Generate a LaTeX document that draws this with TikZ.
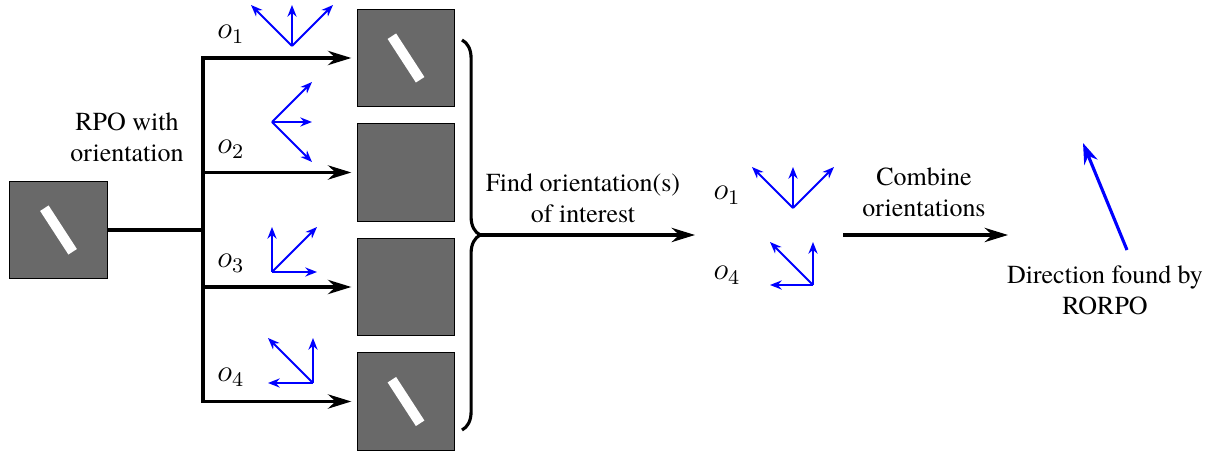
\documentclass[tikz,border=0pt]{standalone}
\usepackage[no-math]{fontspec}
\setmainfont{texgyretermes}[Extension=.otf,UprightFont=*-regular,BoldFont=*-bold,ItalicFont=*-italic,BoldItalicFont=*-bolditalic]
\usetikzlibrary{arrows.meta,decorations.pathreplacing}
\definecolor{boxgray}{RGB}{105,105,105}
\tikzset{
  imgbox/.style={draw,thin,fill=boxgray,minimum size=37.7pt,inner sep=0pt},
  bar/.style={fill=white,minimum width=20pt,minimum height=3.9pt,inner sep=0pt,rotate=-57},
  flow/.style={very thick,-{Stealth[length=9pt,width=5.5pt]}},
  ori/.style={thick,blue,-{Stealth[length=4.5pt,width=3.5pt]}},
  lbl/.style={align=center,inner sep=0pt}
}
\begin{document}
\begin{tikzpicture}[x=0.385pt,y=-0.385pt]
\useasboundingbox (0,0) rectangle (1218,454);
% input image
\node[imgbox] (in) at (58.5,230) {};
\node[bar] (inbar) at (in.center) {};
\node[lbl] (rpo) at (127,137) {RPO with\\orientation};
\coordinate (split) at (203,230);
\draw[very thick] (in.east) -- (split);
% one output per orientation
\foreach \i/\y in {1/58,2/172.5,3/287,4/401.5}
{
\node[imgbox] (b\i) at (406,\y) {};
\draw[flow,shorten >=2pt] (split) |- (b\i);
}
\node[bar] (bar1) at (b1.center) {};
\node[bar] (bar4) at (b4.center) {};
\node[font=\large] (lo1) at (231,34) {$o_1$};
\node[font=\large] (lo2) at (231,149) {$o_2$};
\node[font=\large] (lo3) at (231,263) {$o_3$};
\node[font=\large] (lo4) at (231,377) {$o_4$};
% orientation glyphs
\coordinate (g1) at (292,46);
\coordinate (g2) at (272,122);
\coordinate (g3) at (272,272);
\coordinate (g4) at (313,383);
\foreach \dx/\dy in {-1/-1,0/-1,1/-1} \draw[ori] (g1) -- ++(41*\dx,41*\dy);
\foreach \dx/\dy in {1/-1,1/0,1/1} \draw[ori] (g2) -- ++(40*\dx,40*\dy);
\foreach \dx/\dy in {0/-1,1/-1,1/0} \draw[ori] (g3) -- ++(45*\dx,45*\dy);
\foreach \dx/\dy in {0/-1,-1/0,-1/-1} \draw[ori] (g4) -- ++(45*\dx,45*\dy);
% selection
\draw[very thick,decorate,decoration={brace,amplitude=7pt}] (462,40) -- (462,430);
\coordinate (tip) at (480,235);
\coordinate (selend) at (695,235);
\draw[flow] (tip) -- (selend);
\node[lbl] (find) at (583,198) {Find orientation(s)\\of interest};
\node[font=\large] (so1) at (727,195) {$o_1$};
\node[font=\large] (so4) at (727,275) {$o_4$};
\coordinate (g5) at (793,208);
\coordinate (g6) at (813,285);
\foreach \dx/\dy in {-1/-1,0/-1,1/-1} \draw[ori] (g5) -- ++(41*\dx,41*\dy);
\foreach \dx/\dy in {0/-1,-1/0,-1/-1} \draw[ori] (g6) -- ++(43*\dx,43*\dy);
% combination
\coordinate (comb0) at (843,235);
\coordinate (comb1) at (1008,235);
\draw[flow] (comb0) -- (comb1);
\node[lbl] (combine) at (924,192) {Combine\\orientations};
\coordinate (dir0) at (1127,250);
\coordinate (dir1) at (1083,143);
\draw[very thick,blue,-{Stealth[length=8pt,width=5.5pt]}] (dir0) -- (dir1);
\node[lbl] (found) at (1105,290) {Direction found by\\RORPO};
\end{tikzpicture}
\end{document}
